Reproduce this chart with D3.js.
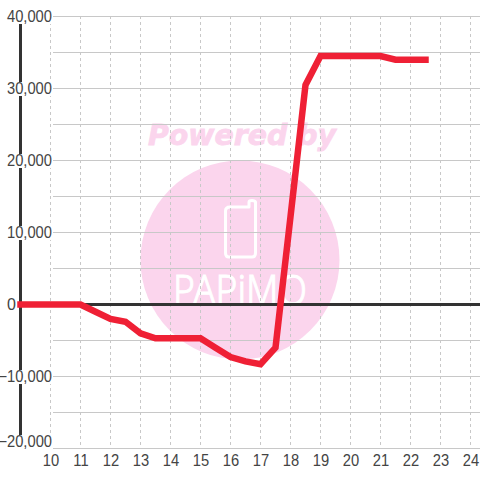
<!DOCTYPE html>
<html><head><meta charset="utf-8">
<script src="https://cdnjs.cloudflare.com/ajax/libs/d3/7.8.5/d3.min.js"></script>
<style>html,body{margin:0;padding:0;background:#fff}svg{display:block}text{font-family:"Liberation Sans",Arial,sans-serif}</style>
</head><body><svg id="c" width="480" height="480"></svg>
<script>
const hours = [9,9.5,10,10.5,11,11.5,12,12.5,13,13.5,14,14.5,15,15.5,16,16.5,17,17.5,18,18.5,19,19.5,20,20.5,21,21.5,22,22.5];
const values = [0,0,0,0,0,-1000,-2000,-2400,-4000,-4700,-4700,-4700,-4700,-6000,-7300,-7900,-8300,-6000,12200,30500,34500,34500,34500,34500,34500,34000,34000,34000];
const xTicks = [10,11,12,13,14,15,16,17,18,19,20,21,22,23,24];
const yLabelled = [40000,30000,20000,10000,-10000,-20000];
const yGrid = [40000,35000,30000,25000,20000,15000,10000,5000,0,-5000,-10000,-15000,-20000];

const svg = d3.select("#c");
const x = d3.scaleLinear().domain([9,25]).range([20.5,500.5]);
const y = d3.scaleLinear().domain([40000,-20000]).range([16.5,448.5]);
const fmt = d3.format(",");
const squeeze = 0.92;

// watermark
const wm = svg.append("g");
wm.append("circle").attr("cx",240).attr("cy",260).attr("r",99.5).attr("fill","#fbd5ed");
wm.append("text").attr("x",148).attr("y",144.5)
  .style("font-family","'DejaVu Sans'")
  .attr("font-size",28.5).attr("font-weight","bold").attr("font-style","italic")
  .attr("textLength",188).attr("lengthAdjust","spacingAndGlyphs")
  .attr("fill","#fbd5ed").attr("stroke","#fbd5ed").attr("stroke-width",0.8).text("Powered by");
wm.append("path").attr("fill","none").attr("stroke","#fff").attr("stroke-width",3).attr("stroke-linejoin","round")
  .attr("d","M230 207H249V202Q249 200.5 252 200.5T255.5 202V253Q255.5 257 252 257H229Q225.5 257 225.5 253V211Q225.5 207 230 207Z");
wm.append("text").attr("x",173).attr("y",305)
  .style("font-family","'Noto Sans'").attr("font-weight",300)
  .attr("font-size",42).attr("textLength",134).attr("lengthAdjust","spacingAndGlyphs")
  .attr("fill","#fff").attr("stroke","#fff").attr("stroke-width",1).text("PAPiMO");

// grid
svg.append("g").selectAll("line").data(xTicks).join("line")
  .attr("x1",d=>x(d)).attr("x2",d=>x(d)).attr("y1",16).attr("y2",448)
  .attr("stroke","#c8c8c8").attr("stroke-dasharray","3,3");
svg.append("g").selectAll("line").data(yGrid).join("line")
  .attr("x1",53).attr("x2",480).attr("y1",d=>y(d)).attr("y2",d=>y(d))
  .attr("stroke","#c8c8c8").attr("stroke-width",1);

// axes
svg.append("line").attr("x1",20.5).attr("x2",20.5).attr("y1",24).attr("y2",436).attr("stroke","#333").attr("stroke-width",3);
svg.append("line").attr("x1",20).attr("x2",480).attr("y1",y(0)).attr("y2",y(0)).attr("stroke","#333").attr("stroke-width",3);

// y labels on white plates that break the axis line
const base = d => Math.min(y(d)+5.5, 447);
const ly = svg.append("g").selectAll("g").data(yLabelled).join("g");
const rects = ly.append("rect").attr("fill","#fff");
const lt = ly.append("text").attr("x",52).attr("y",base).attr("text-anchor","end")
  .attr("font-size",16).attr("fill","#444").text(fmt);
lt.each(function(){ d3.select(this).attr("textLength",this.getComputedTextLength()*squeeze).attr("lengthAdjust","spacingAndGlyphs"); });
rects.each(function(d,i){
  const w = lt.nodes()[i].getComputedTextLength();
  d3.select(this).attr("x",52-w-1).attr("width",w+2).attr("y",base(d)-12).attr("height",14);
});
svg.append("text").attr("x",16).attr("y",y(0)+5.5).attr("text-anchor","end")
  .attr("font-size",16).attr("fill","#444").text("0");

// x labels
svg.append("g").selectAll("text").data(xTicks).join("text")
  .attr("x",d=>x(d)+0.5).attr("y",466).attr("text-anchor","middle")
  .attr("font-size",16).attr("fill","#444").text(d=>d)
  .each(function(){ d3.select(this).attr("textLength",this.getComputedTextLength()*squeeze).attr("lengthAdjust","spacingAndGlyphs"); });

// series
svg.append("path").datum(d3.range(hours.length)).attr("fill","none")
  .attr("stroke","#ef2035").attr("stroke-width",6.5).attr("stroke-linejoin","miter").attr("stroke-linecap","square")
  .attr("d",d3.line().x(i=>x(hours[i])).y(i=>y(values[i])));
</script></body></html>
